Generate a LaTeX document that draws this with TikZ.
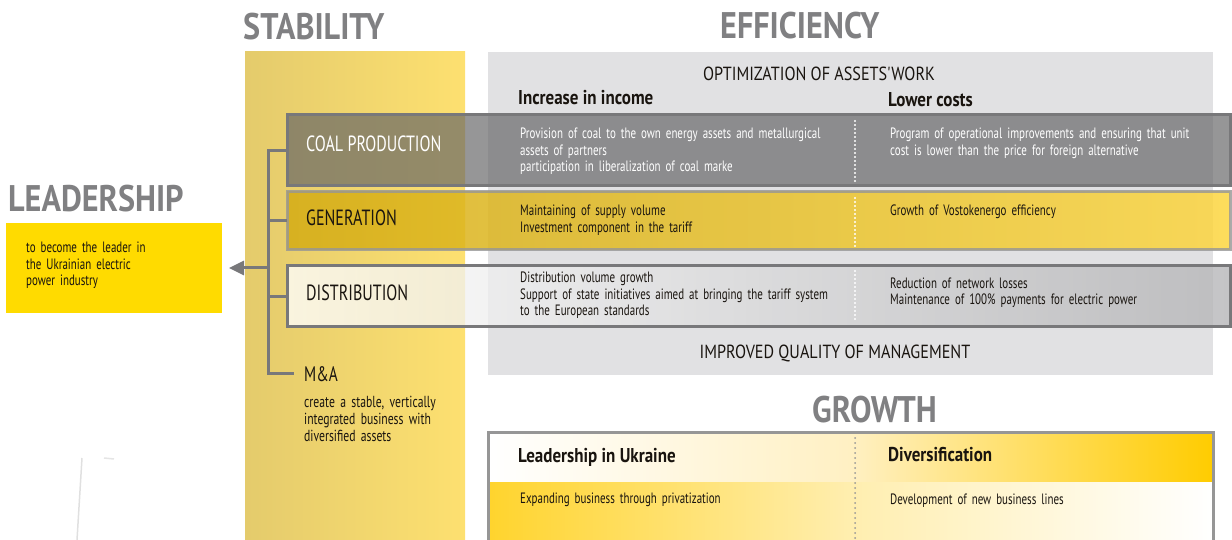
\documentclass[tikz,border=0pt]{standalone}
\usepackage{fontspec}
\setmainfont{PT Sans}[FakeStretch=0.73]
\newfontfamily\titlefont{PT Sans}[FakeStretch=0.87]
\newfontfamily\subfont{PT Sans}[FakeStretch=0.85]
\usetikzlibrary{arrows.meta}
% tighter word spaces for the condensed body text
\newcommand\tightspaces{\fontdimen2\font=2.6pt\fontdimen3\font=0.8pt\fontdimen4\font=0.4pt\relax}
\newcommand\maspaces{\fontdimen2\font=2.9pt\fontdimen3\font=0.8pt\fontdimen4\font=0.4pt\relax}

\definecolor{colL}{RGB}{228,203,108}
\definecolor{colR}{RGB}{253,224,112}
\definecolor{panel}{RGB}{225,225,227}
\definecolor{leader}{RGB}{255,219,0}
\definecolor{titlegray}{RGB}{128,128,130}
\definecolor{ink}{RGB}{25,20,15}
\definecolor{linegray}{RGB}{120,120,122}
\definecolor{coalgray}{RGB}{100,100,102}
\definecolor{genL}{RGB}{212,172,20}
\definecolor{genR}{RGB}{252,214,64}
\definecolor{distR}{RGB}{180,180,182}
\definecolor{growY}{RGB}{255,204,0}
\definecolor{growB}{RGB}{255,212,45}
\definecolor{growline}{RGB}{150,150,150}

\begin{document}
\begin{tikzpicture}[x=1pt,y=-1pt,
  box/.style={anchor=north west, inner sep=0pt, outer sep=0pt},
  conn/.style={draw=linegray, line width=3pt},
  heading/.style={anchor=base west, inner sep=0pt, text=titlegray,
    font=\titlefont\fontsize{37}{40}\selectfont\bfseries},
  txt/.style={anchor=base west, inner sep=0pt, text width=#1, align=left,
    text=ink, font=\fontsize{15}{16.5}\selectfont\tightspaces},
  txt/.default=340pt,
  rowlabel/.style={anchor=base west, inner sep=0pt, text=ink,
    font=\fontsize{22}{24}\selectfont},
  subhead/.style={anchor=base west, inner sep=0pt, text=ink,
    font=\subfont\fontsize{20}{22}\selectfont\bfseries},
  caps/.style={anchor=base, inner sep=0pt, text=ink,
    font=\subfont\fontsize{19}{21}\selectfont},
  wdots/.style={draw=white, line width=2.2pt, line cap=round, dash pattern=on 0pt off 4pt},
  gdots/.style={draw=growline, line width=2pt, line cap=round, dash pattern=on 0pt off 5pt},
]
\useasboundingbox (0,0) rectangle (1232,540);

% stability column and efficiency panel
\node[box, minimum width=220pt, minimum height=488pt, left color=colL, right color=colR] (stab) at (245,52) {};
\node[box, fill=panel, minimum width=725pt, minimum height=323pt] (eff) at (488,52) {};

% business rows
\node[box, minimum width=943pt, minimum height=71pt, fill=coalgray, fill opacity=0.68,
      draw=linegray, line width=3pt] (coal) at (287,115) {};
\node[box, minimum width=943pt, minimum height=58pt, left color=genL, right color=genR,
      fill opacity=0.85, draw=growline, draw opacity=0.8, line width=3pt] (gen) at (287,192) {};
\node[box, minimum width=943pt, minimum height=60pt, left color=white, right color=distR,
      fill opacity=0.78, draw=linegray, line width=3pt] (dist) at (287,266) {};

% dividers between income and costs
\draw[wdots] (855,121) -- (855,182);
\draw[wdots] (855,198) -- (855,246);
\draw[wdots] (855,271) -- (855,322);

% growth box
\node[box, minimum width=725pt, minimum height=50pt, left color=white, right color=growY,
      middle color={rgb,255:red,255;green,240;blue,195}] (growtop) at (488,432) {};
\node[box, minimum width=725pt, minimum height=60pt, left color=growB, right color=white,
      middle color={rgb,255:red,255;green,238;blue,175}] (growbot) at (488,482) {};
\draw[draw=growline, line width=3pt] (growbot.south west) |- (growtop.north east) -- (growbot.south east);
\draw[gdots] (855,438) -- (855,540);

% leadership box
\node[box, fill=leader, minimum width=216pt, minimum height=90pt] (lead) at (6,223) {};

% headings
\node[heading] (hstab) at (243,40) {STABILITY};
\node[heading] (heff) at (720,39) {EFFICIENCY};
\node[heading] (hlead) at (8,212) {LEADERSHIP};
\node[heading] (hgrow) at (812,422) {GROWTH};

% efficiency texts
\node[caps] (opt) at (819,81) {OPTIMIZATION OF ASSETS'WORK};
\node[caps] (imp) at (835,358) {IMPROVED QUALITY OF MANAGEMENT};
\node[subhead] (inc) at (518,105) {Increase in income};
\node[subhead] (low) at (888,107) {Lower costs};

\node[rowlabel, text=white] (lcoal) at (306,152) {COAL PRODUCTION};
\node[rowlabel] (lgen) at (306,226) {GENERATION};
\node[rowlabel] (ldist) at (306,301) {DISTRIBUTION};

\node[txt, text=white] (tcoal1) at (520,139) {Provision of coal to the own energy assets and metallurgical\\assets of partners\\participation in liberalization of coal marke};
\node[txt, text=white] (tcoal2) at (890,139) {Program of operational improvements and ensuring that unit\\cost is lower than the price for foreign alternative};
\node[txt] (tgen1) at (520,216) {Maintaining of supply volume\\Investment component in the tariff};
\node[txt] (tgen2) at (890,216) {Growth of Vostokenergo efficiency};
\node[txt] (tdist1) at (520,283) {Distribution volume growth\\Support of state initiatives aimed at bringing the tariff system\\to the European standards};
\node[txt] (tdist2) at (890,288) {Reduction of network losses\\Maintenance of 100\% payments for electric power};

% growth texts
\node[subhead] (gl) at (518,462) {Leadership in Ukraine};
\node[subhead] (gd) at (888,461) {Diversification};
\node[txt] (ge) at (520,503) {Expanding business through privatization};
\node[txt] (gn) at (890,504) {Development of new business lines};

% leadership and M&A texts
\node[txt=150pt] (tlead) at (26,253) {to become the leader in\\the Ukrainian electric\\power industry};
\node[rowlabel, font=\fontsize{21}{23}\selectfont] (ma) at (304,381) {M\&A};
\node[txt=170pt, font=\fontsize{16}{17}\selectfont\maspaces] (tma) at (304,407) {create a stable, vertically\\integrated business with\\diversified assets};

% structure tree
\coordinate (trunkTop) at (268,150.5);
\coordinate (trunkBot) at (268,373);
\coordinate (fork) at (268,268);
\draw[conn, line join=miter] (coal.west) -- (trunkTop) -- (trunkBot) -- (ma.west |- trunkBot) [shorten >=10pt];
\draw[conn] (gen.west) -- (gen.west -| trunkTop);
\draw[conn] (dist.west) -- (dist.west -| trunkTop);
\draw[conn, -{Triangle[length=15pt,width=14pt]}, shorten >=7pt] (fork) -- (fork -| lead.east);

% faint marks near the lower left
\draw[draw=black!12, line width=1.5pt] (82,458) -- (77,540);
\draw[draw=black!10, line width=1.5pt] (104,458) -- (114,459);
\end{tikzpicture}
\end{document}
